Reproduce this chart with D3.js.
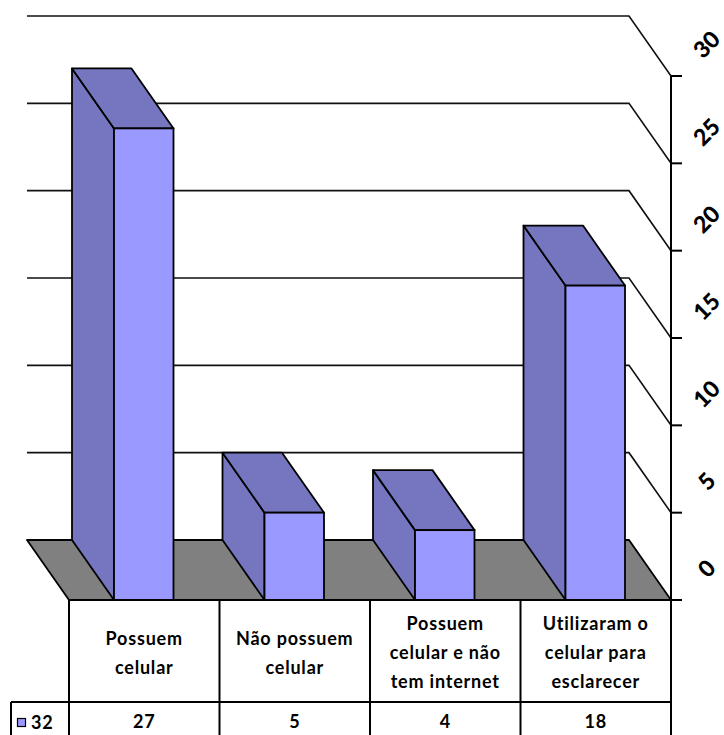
<!DOCTYPE html>
<html>
<head>
<meta charset="utf-8">
<script src="https://cdn.jsdelivr.net/npm/d3@7"></script>
<style>
  html, body { margin: 0; padding: 0; background: #fff; }
  svg { display: block; }
  text { font-family: Lato, "Open Sans", sans-serif; font-weight: bold; fill: #000; }
</style>
</head>
<body>
<svg id="chart" width="724" height="735"></svg>
<script>
// Categories (table header lines) and the single series
const categories = [
  ["Possuem", "celular"],
  ["Não possuem", "celular"],
  ["Possuem", "celular e não", "tem internet"],
  ["Utilizaram o", "celular para", "esclarecer"]
];
const seriesName = "32";
const values = [27, 5, 4, 18];
const tickValues = [0, 5, 10, 15, 20, 25, 30];

const svg = d3.select("#chart");

// Front plane of the 3D plot and its depth offset (back wall is up-left)
const plotLeft = 69, plotRight = 671, plotBase = 600, plotTop = 76;
const depthX = -42, depthY = -60;

const x = d3.scaleBand()
  .domain(d3.range(categories.length))
  .range([plotLeft, plotRight])
  .paddingInner(0).paddingOuter(0);

const y = d3.scaleLinear().domain([0, 30]).range([plotBase, plotTop]);

const sideColor = "#7575c0";
const frontColor = "#9999ff";
const floorColor = "#808080";

// Back-wall gridlines with their diagonal leg to the front axis
const grid = svg.append("g");
tickValues.filter(v => v > 0).forEach(v => {
  const yy = y(v);
  grid.append("path")
    .attr("d", `M${plotLeft + depthX},${yy + depthY} L${plotRight + depthX},${yy + depthY} L${plotRight},${yy}`)
    .attr("fill", "none")
    .attr("stroke", "#111")
    .attr("stroke-width", 1.6);
});

// Floor
svg.append("path")
  .attr("d", `M${plotLeft + depthX},${plotBase + depthY} L${plotRight + depthX},${plotBase + depthY} L${plotRight},${plotBase} L${plotLeft},${plotBase} Z`)
  .attr("fill", floorColor)
  .attr("stroke", "#000")
  .attr("stroke-width", 1.8)
  .attr("stroke-linejoin", "round");

// Bars as 3D blocks: side face, top face, front face
const barW = 59.5;
const barOffset = 45;
const bars = svg.append("g").selectAll("g").data(values).join("g");
bars.each(function (v, i) {
  const g = d3.select(this);
  const x0 = x(i) + barOffset, x1 = x0 + barW, yt = y(v);
  g.append("path")
    .attr("d", `M${x0},${plotBase} L${x0},${yt} L${x0 + depthX},${yt + depthY} L${x0 + depthX},${plotBase + depthY} Z`)
    .attr("fill", sideColor).attr("stroke", "#000").attr("stroke-width", 1.8).attr("stroke-linejoin", "round");
  g.append("path")
    .attr("d", `M${x0},${yt} L${x1},${yt} L${x1 + depthX},${yt + depthY} L${x0 + depthX},${yt + depthY} Z`)
    .attr("fill", sideColor).attr("stroke", "#000").attr("stroke-width", 1.8).attr("stroke-linejoin", "round");
  g.append("rect")
    .attr("x", x0).attr("y", yt).attr("width", barW).attr("height", plotBase - yt)
    .attr("fill", frontColor).attr("stroke", "#000").attr("stroke-width", 1.8);
});

// Value axis on the right with outward ticks and rotated labels
const axis = svg.append("g");
axis.append("line")
  .attr("x1", plotRight).attr("x2", plotRight).attr("y1", y(30)).attr("y2", 735)
  .attr("stroke", "#000").attr("stroke-width", 2);
tickValues.forEach(v => {
  axis.append("line")
    .attr("x1", plotRight).attr("x2", plotRight + 11).attr("y1", y(v)).attr("y2", y(v))
    .attr("stroke", "#000").attr("stroke-width", 2);
  const lx = plotRight + 35, ly = y(v) - 32;
  axis.append("text")
    .attr("transform", `translate(${lx},${ly}) rotate(-45)`)
    .attr("text-anchor", "middle")
    .attr("dominant-baseline", "central")
    .style("font-size", "23px")
    .style("font-weight", "900")
    .text(v);
});

// Data table below the plot
const rowTop = plotBase, rowMid = 702, rowBot = 735;
const table = svg.append("g").attr("stroke", "#000").attr("stroke-width", 2);
table.append("line").attr("x1", plotLeft).attr("x2", plotRight).attr("y1", rowTop).attr("y2", rowTop);
table.append("line").attr("x1", 11).attr("x2", plotRight).attr("y1", rowMid).attr("y2", rowMid);
table.append("line").attr("x1", 11).attr("x2", 11).attr("y1", rowMid).attr("y2", rowBot);
d3.range(categories.length).forEach(i => {
  table.append("line").attr("x1", x(i)).attr("x2", x(i)).attr("y1", rowTop).attr("y2", rowBot);
});

const lineH = 29;
categories.forEach((lines, i) => {
  const cx = x(i) + x.bandwidth() / 2;
  const cy = (rowTop + rowMid) / 2 + 1;
  const startY = cy - (lines.length - 1) * lineH / 2;
  lines.forEach((t, k) => {
    svg.append("text")
      .attr("x", cx).attr("y", startY + k * lineH)
      .attr("text-anchor", "middle").attr("dominant-baseline", "central")
      .style("font-size", "18px")
      .style("letter-spacing", "0.8px")
      .text(t);
  });
  svg.append("text")
    .attr("x", cx).attr("y", 721)
    .attr("text-anchor", "middle").attr("dominant-baseline", "central")
    .style("font-size", "18px")
    .style("letter-spacing", "0.8px")
    .text(values[i]);
});

// Legend key in the row header
svg.append("rect")
  .attr("x", 17.5).attr("y", 718.5).attr("width", 8).attr("height", 8)
  .attr("fill", frontColor).attr("stroke", "#000").attr("stroke-width", 1.2);
svg.append("text")
  .attr("x", 31).attr("y", 722)
  .attr("dominant-baseline", "central")
  .style("font-size", "18px")
  .style("letter-spacing", "0.8px")
  .text(seriesName);
</script>
</body>
</html>
